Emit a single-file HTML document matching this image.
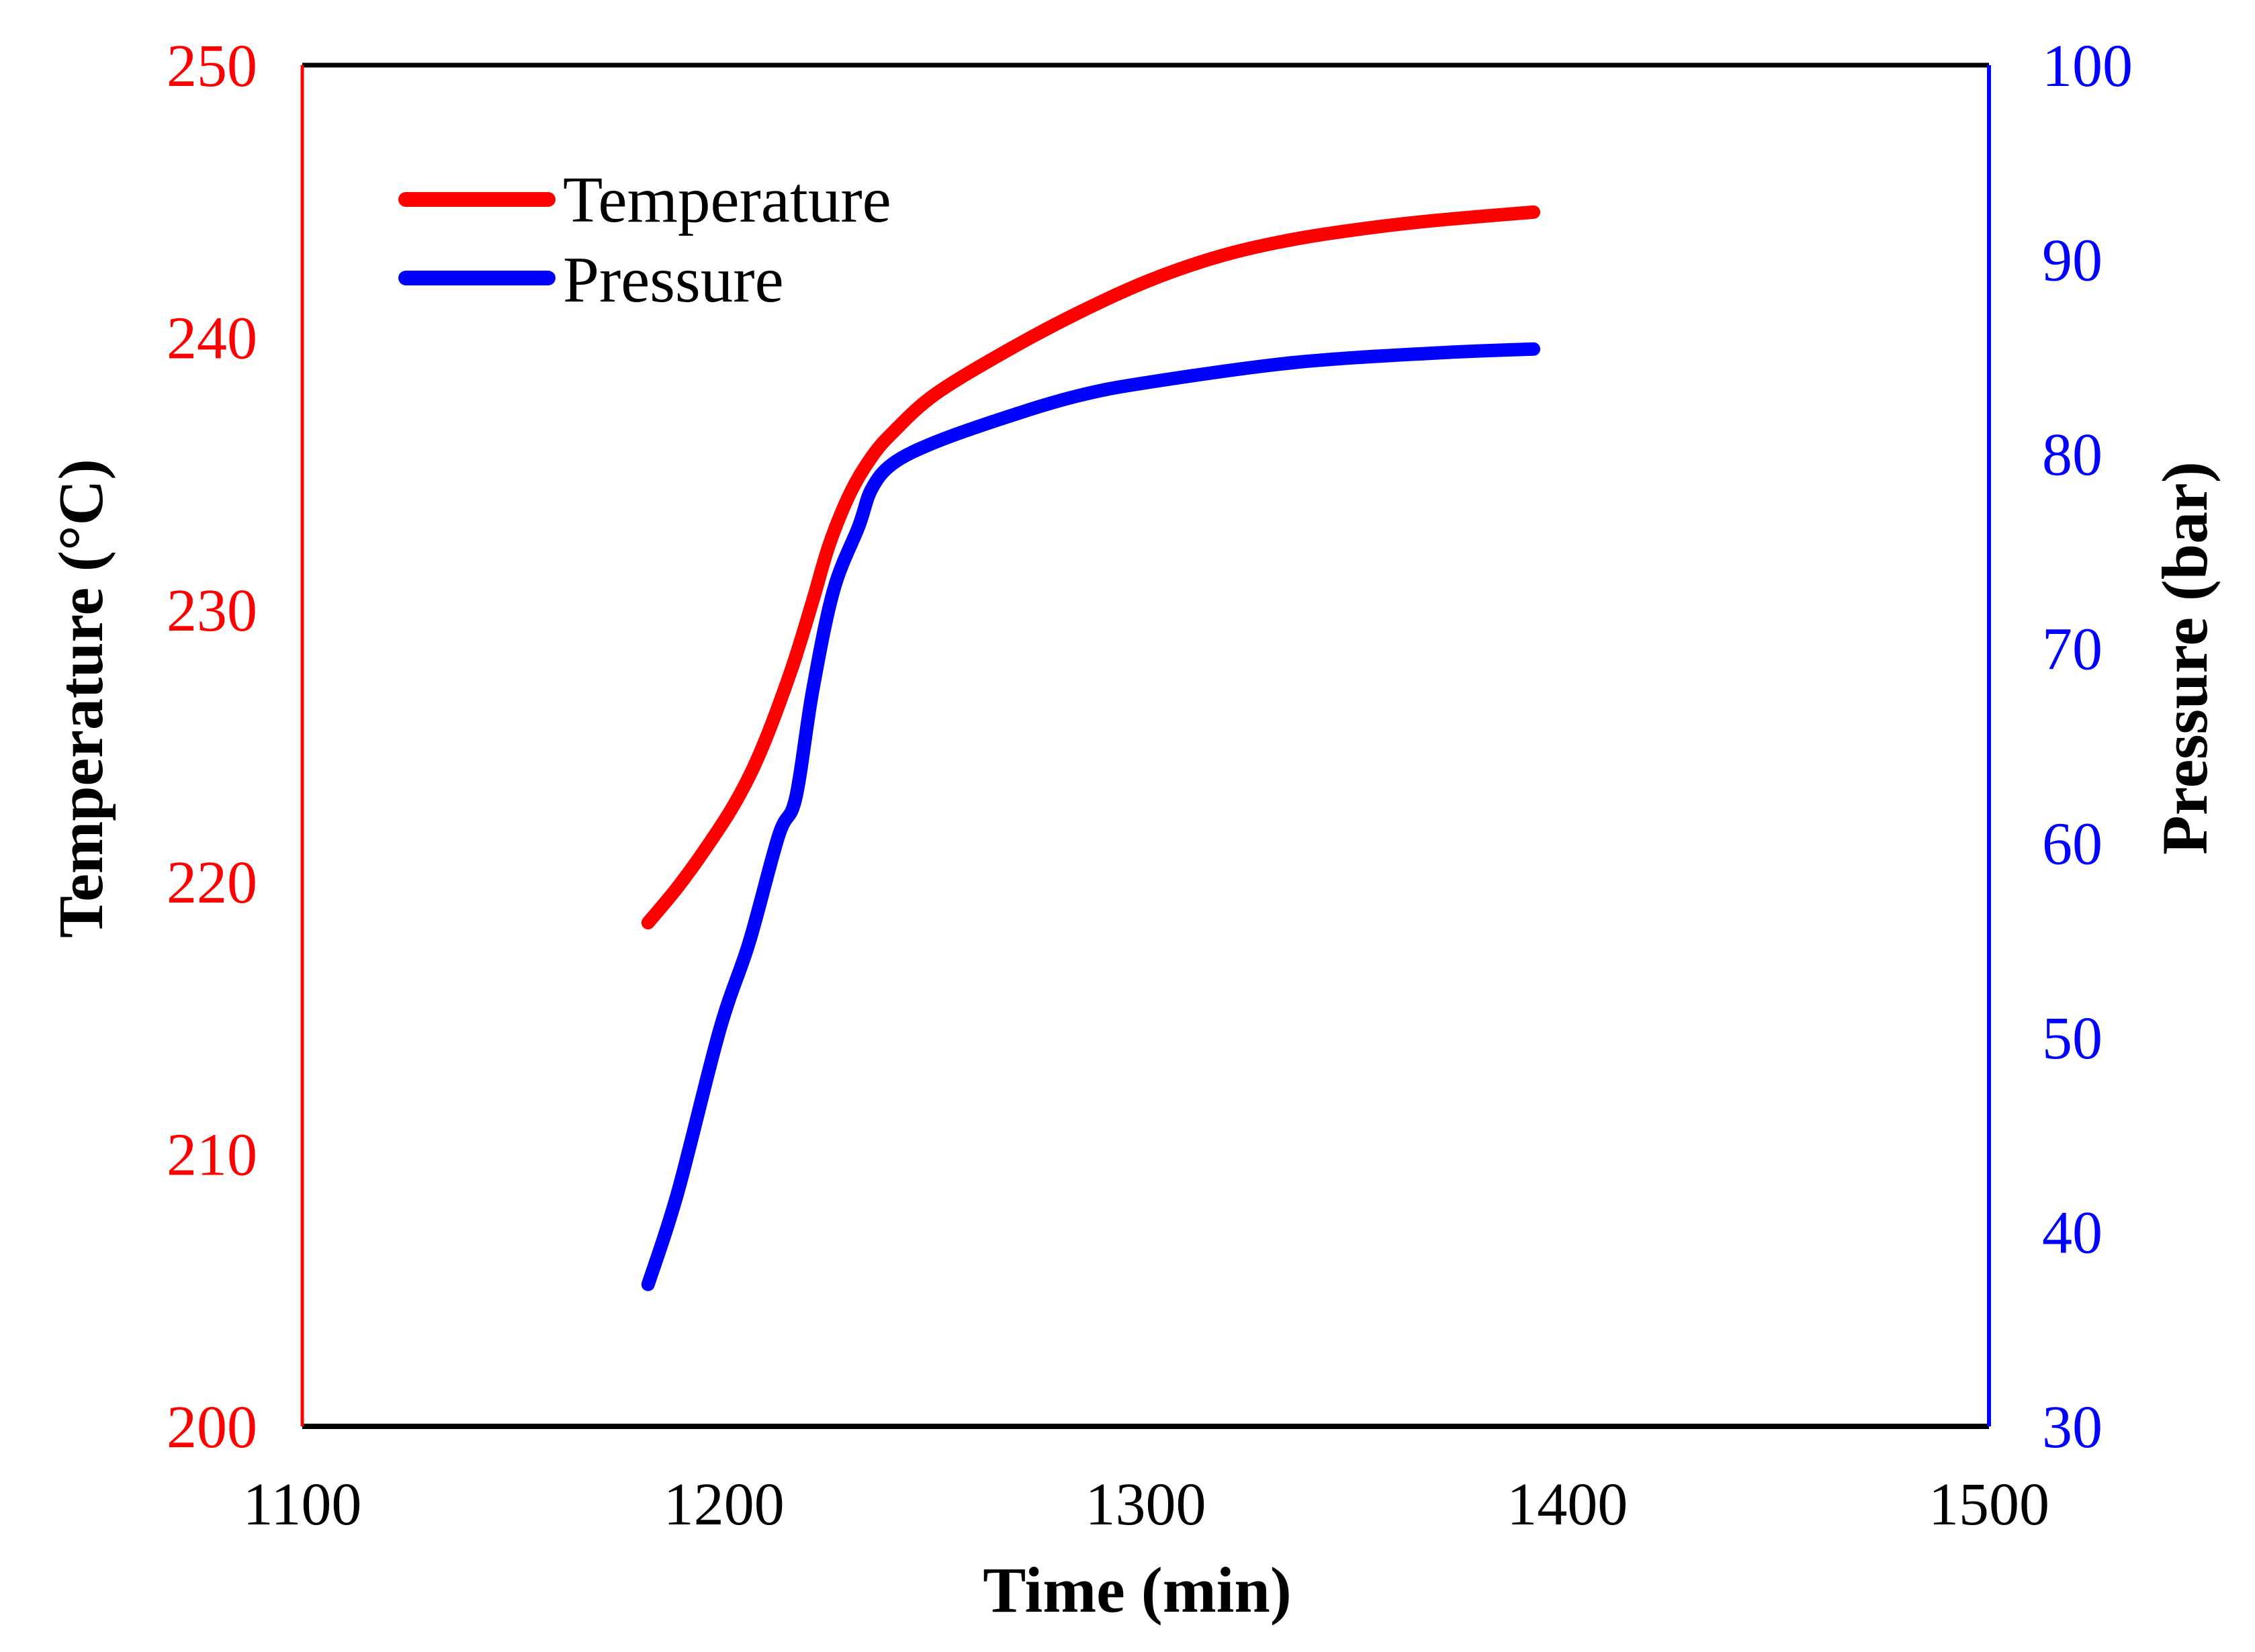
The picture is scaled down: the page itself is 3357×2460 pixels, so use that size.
<!DOCTYPE html>
<html><head><meta charset="utf-8"><style>body{margin:0;background:#fff}svg{display:block}text{font-family:"Liberation Serif",serif}</style></head>
<body>
<svg id="chart" width="3357" height="2460" viewBox="0 0 3357 2460" xmlns="http://www.w3.org/2000/svg">
<g id="plot"></g>
</svg>
<script>
const timeT = [1182,1189,1196,1203,1209,1216,1221,1225,1230,1235,1240,1250,1267,1284,1301,1318,1335,1352,1369,1392];
const tempVals = [218.5,219.8,221.3,223.0,224.9,227.8,230.3,232.4,234.3,235.6,236.5,237.9,239.5,240.9,242.1,243.0,243.6,244.0,244.3,244.6];
const timeP = [1182,1189,1199,1206,1213,1217,1221,1226,1232,1235,1240,1250,1267,1284,1301,1335,1369,1392];
const presVals = [37.3,42.0,50.4,54.9,60.4,62.3,67.8,73.0,76.3,78.2,79.5,80.6,81.9,83.0,83.7,84.7,85.2,85.4];
const xTicks = [1100,1200,1300,1400,1500];
const tTicks = [200,210,220,230,240,250];
const pTicks = [30,40,50,60,70,80,90,100];

const L=450,R=2961,T=97,B=2124;
const xs=v=>L+(v-1100)/400*(R-L);
const yT=v=>B-(v-200)/50*(B-T);
const yP=v=>B-(v-30)/70*(B-T);
const NS="http://www.w3.org/2000/svg";
const g=document.getElementById('plot');
function el(tag,attrs,txt){const e=document.createElementNS(NS,tag);for(const k in attrs)e.setAttribute(k,attrs[k]);if(txt!==undefined)e.textContent=txt;g.appendChild(e);return e;}

let e;
e=el('line',{x1:L,y1:T,x2:R,y2:T,stroke:'#000','stroke-width':7});


e=el('line',{x1:L,y1:B,x2:R,y2:B,stroke:'#000','stroke-width':8});


e=el('line',{x1:L,y1:T,x2:L,y2:B,stroke:'#f00','stroke-width':5});


e=el('line',{x1:R,y1:T,x2:R,y2:B,stroke:'#00f','stroke-width':6});



xTicks.forEach(v=>{
  e=el('text',{x:xs(v),y:2270,'font-size':90,'text-anchor':'middle',fill:'#000'},v);
  
  
});
tTicks.forEach(v=>{
  e=el('text',{x:383,y:yT(v)+31,'font-size':90,'text-anchor':'end',fill:'#f00'},v);
  
  
});
pTicks.forEach(v=>{
  e=el('text',{x:3040,y:yP(v)+31,'font-size':90,'text-anchor':'start',fill:'#00f'},v);
  
  
});

function pathOf(xa,ya,fy){
  const p=xa.map((x,i)=>[xs(x),fy(ya[i])]);
  let d='M'+p[0][0].toFixed(1)+' '+p[0][1].toFixed(1);
  for(let i=0;i<p.length-1;i++){
    const p0=p[Math.max(0,i-1)],p1=p[i],p2=p[i+1],p3=p[Math.min(p.length-1,i+2)];
    const c1=[p1[0]+(p2[0]-p0[0])/6,p1[1]+(p2[1]-p0[1])/6];
    const c2=[p2[0]-(p3[0]-p1[0])/6,p2[1]-(p3[1]-p1[1])/6];
    d+=' C'+c1.map(v=>v.toFixed(1)).join(' ')+' '+c2.map(v=>v.toFixed(1)).join(' ')+' '+p2[0].toFixed(1)+' '+p2[1].toFixed(1);
  }
  return d;
}
e=el('path',{d:pathOf(timeT,tempVals,yT),fill:'none',stroke:'#f00','stroke-width':20,'stroke-linecap':'round','stroke-linejoin':'round'});


e=el('path',{d:pathOf(timeP,presVals,yP),fill:'none',stroke:'#00f','stroke-width':20,'stroke-linecap':'round','stroke-linejoin':'round'});



e=el('line',{x1:604,y1:297,x2:816,y2:297,stroke:'#f00','stroke-width':22,'stroke-linecap':'round'});


e=el('text',{x:838,y:330,'font-size':97,fill:'#000'},'Temperature');


e=el('line',{x1:604,y1:414,x2:816,y2:414,stroke:'#00f','stroke-width':22,'stroke-linecap':'round'});


e=el('text',{x:838,y:449,'font-size':97,fill:'#000'},'Pressure');



e=el('text',{x:1693,y:2400,'font-size':96,'font-weight':'bold','text-anchor':'middle',fill:'#000'},'Time (min)');


e=el('text',{x:0,y:0,'font-size':94,'font-weight':'bold','text-anchor':'middle',fill:'#000',transform:'translate(152,1040) rotate(-90)'},'Temperature (°C)');


e=el('text',{x:0,y:0,'font-size':96,'font-weight':'bold','text-anchor':'middle',fill:'#000',transform:'translate(3285,980) rotate(-90)'},'Pressure (bar)');


</script>
</body></html>
